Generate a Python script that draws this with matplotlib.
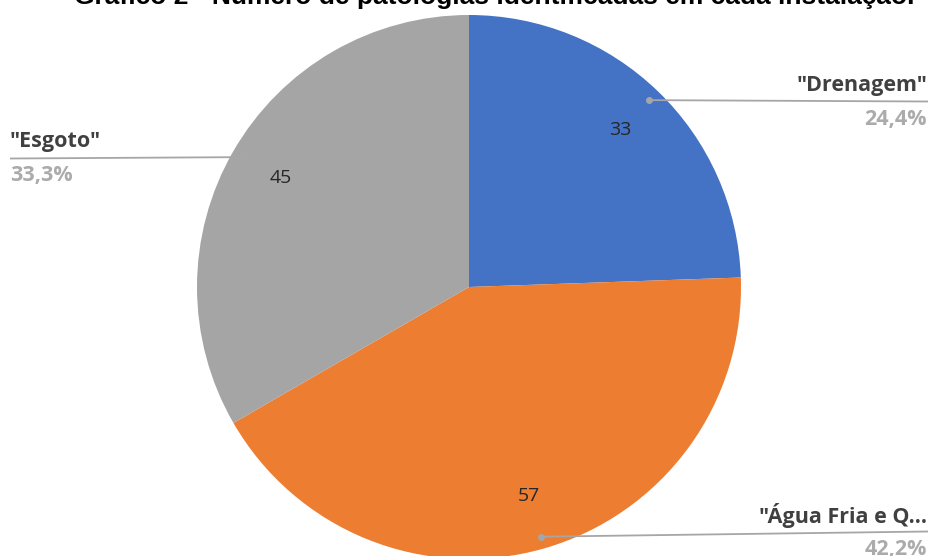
import numpy as np
import matplotlib.pyplot as plt

categories = ['"Drenagem"', '"Água Fria e Q...', '"Esgoto"']
counts = [33, 57, 45]
colors = ['#4472C4', '#ED7D31', '#A5A5A5']

W, H = 932, 556
fig = plt.figure(figsize=(W / 100, H / 100), dpi=100)
ax = fig.add_axes([0, 0, 1, 1])

cx, cy, r = 469, H - 287, 272
total = sum(counts)

wedges, _, autotexts = ax.pie(
    counts, colors=colors, startangle=90, counterclock=False,
    center=(cx, cy), radius=r, pctdistance=0.80,
    autopct=lambda p: f'{p * total / 100:.0f}',
    textprops=dict(fontsize=14, color='#262626', family='Open Sans'),
    wedgeprops=dict(linewidth=0),
)
ax.set_xlim(0, W)
ax.set_ylim(0, H)
ax.set_aspect('equal')
ax.axis('off')

# callout labels: (text x, text y, alignment, line end x)
callouts = [
    (927, H - 85, 'right', 928),
    (927, H - 515, 'right', 928),
    (10, H - 142, 'left', 10),
]
label_font = ['Open Sans', 'DejaVu Sans']
for w, name, n, (tx, ty, ha, lx) in zip(wedges, categories, counts, callouts):
    mid = np.deg2rad((w.theta1 + w.theta2) / 2)
    px = cx + 0.955 * r * np.cos(mid)
    py = cy + 0.955 * r * np.sin(mid)
    ly = ty - 16.5
    ax.plot([px, lx], [py, ly], color='#A6A6A6', lw=1.3, solid_capstyle='butt')
    ax.plot(px, py, 'o', color='#A6A6A6', ms=4)
    ax.text(tx, ty, name, ha=ha, va='center', fontsize=15.5,
            fontweight='bold', color='#404040', family=label_font)
    ax.text(tx, ty - 34, f'{n / total * 100:.1f}%'.replace('.', ','),
            ha=ha, va='center', fontsize=15.5, fontweight='bold',
            color='#ABABAB', family=label_font)

fig.text(494 / W, 1 - 4 / H,
         'Gráfico 2 - Número de patologias identificadas em cada instalação.',
         ha='center', va='baseline', fontsize=19, fontweight='bold',
         family='Liberation Sans', color='black')

fig.savefig('out.png', dpi=100)
